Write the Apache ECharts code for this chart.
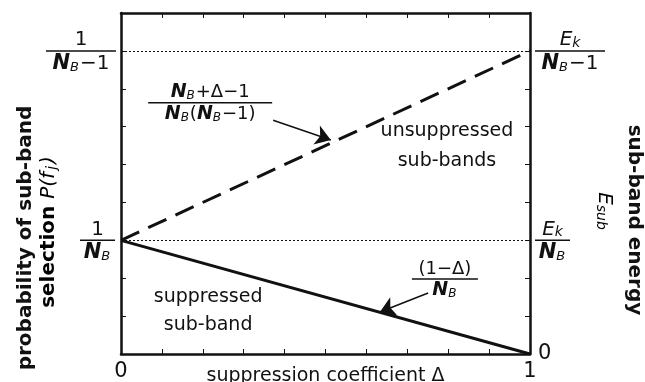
<!DOCTYPE html>
<html>
<head>
<meta charset="utf-8">
<script src="https://cdn.jsdelivr.net/npm/echarts@6/dist/echarts.min.js"></script>
<style>
  html, body { margin: 0; padding: 0; background: #fff; }
  #chart { width: 645px; height: 382px; }
</style>
</head>
<body>
<div id="chart"></div>
<script>
// Schematic scale: Δ runs 0..1, the probability axis runs 0..9 tick steps
const deltaValues = [0, 1];
const suppressedProb = [3, 0];      // (1-Δ)/NB
const unsuppressedProb = [3, 8];    // (NB+Δ-1)/(NB(NB-1))
const levelInvNB = 3;               // 1/NB  and  Ek/NB
const levelInvNBm1 = 8;             // 1/(NB-1)  and  Ek/(NB-1)
const yMax = 9;
const xTickLabels = { 0: '0', 1: '1' };
const rightTickLabels = { 0: '0' };

// annotation anchors in data coordinates
const unsupFracAt = [0.218, 6.63];
const unsupArrow = [[0.372, 6.17], [0.513, 5.65]];
const supFracAt = [0.792, 1.98];
const supArrow = [[0.751, 1.61], [0.633, 1.11]];
const unsupTextAt = [0.797, 5.5];
const supTextAt = [0.213, 1.13];

const FONT = '"DejaVu Sans", sans-serif';
const INK = '#111';

const chart = echarts.init(document.getElementById('chart'));

const axisCommon = {
  type: 'value',
  axisLine: { show: true, onZero: false, lineStyle: { color: INK, width: 2.5 } },
  axisTick: { show: true, inside: true, length: 5, lineStyle: { color: INK, width: 1 } },
  splitLine: { show: false }
};

chart.setOption({
  animation: false,
  grid: { left: 121, right: 115, top: 13, bottom: 28, outerBoundsMode: 'none', containLabel: false },
  xAxis: [
    Object.assign({}, axisCommon, {
      min: 0, max: 1, interval: 0.1, position: 'bottom',
      axisLabel: {
        show: true, margin: 7, fontSize: 21, color: INK, fontFamily: FONT,
        formatter: v => xTickLabels[v] !== undefined ? xTickLabels[v] : ''
      },
      name: 'suppression coefficient Δ', nameLocation: 'middle', nameGap: 13,
      nameMoveOverlap: false,
      nameTextStyle: { fontSize: 19, color: INK, fontFamily: FONT, verticalAlign: 'top' }
    }),
    Object.assign({}, axisCommon, {
      min: 0, max: 1, interval: 0.1, position: 'top',
      axisLabel: { show: false }
    })
  ],
  yAxis: [
    Object.assign({}, axisCommon, {
      min: 0, max: yMax, interval: 1, position: 'left',
      axisLabel: { show: false }
    }),
    Object.assign({}, axisCommon, {
      min: 0, max: yMax, interval: 1, position: 'right',
      axisLabel: {
        show: true, margin: 8, fontSize: 21, color: INK, fontFamily: FONT,
        formatter: v => rightTickLabels[v] !== undefined ? rightTickLabels[v] : ''
      }
    })
  ],
  series: [
    {
      name: 'suppressed', type: 'line', symbol: 'none',
      data: deltaValues.map((d, i) => [d, suppressedProb[i]]),
      lineStyle: { color: INK, width: 3 },
      markLine: {
        silent: true, symbol: ['none', 'arrow'], symbolSize: 15,
        label: { show: false },
        lineStyle: { color: INK, width: 1.5, type: 'solid' },
        data: [
          [{ coord: unsupArrow[0] }, { coord: unsupArrow[1] }],
          [{ coord: supArrow[0] }, { coord: supArrow[1] }]
        ]
      },
      z: 3
    },
    {
      name: 'unsuppressed', type: 'line', symbol: 'none',
      data: deltaValues.map((d, i) => [d, unsuppressedProb[i]]),
      lineStyle: { color: INK, width: 3, type: [20, 10] },
      markLine: {
        silent: true, symbol: 'none', label: { show: false },
        lineStyle: { color: INK, width: 1, type: [2, 2] },
        data: [{ yAxis: levelInvNB }, { yAxis: levelInvNBm1 }]
      },
      z: 2
    }
  ]
});

// ---- text overlays (fractions, titles) placed through the axes ----
const px = (x, y) => chart.convertToPixel({ gridIndex: 0 }, [x, y]);

const rich = (size) => ({
  n: { fontSize: size, fontFamily: FONT, color: INK },
  N: { fontSize: size + 1, fontFamily: FONT, color: INK, fontStyle: 'italic', fontWeight: 'bold' },
  B: { fontSize: Math.round(size * 0.66), fontFamily: FONT, color: INK, fontStyle: 'italic', verticalAlign: 'bottom', padding: [0, 1, 0, 0] },
  E: { fontSize: size, fontFamily: FONT, color: INK, fontStyle: 'italic' },
  k: { fontSize: Math.round(size * 0.7), fontFamily: FONT, color: INK, fontStyle: 'italic', verticalAlign: 'bottom' }
});

const NB = '{N|N}{B|B}';

function frac(cx, cy, half, num, den, size) {
  return [
    { type: 'text', x: cx, y: cy - 1, style: { text: num, rich: rich(size), align: 'center', verticalAlign: 'bottom', fill: INK } },
    { type: 'line', shape: { x1: cx - half, y1: cy, x2: cx + half, y2: cy }, style: { stroke: INK, lineWidth: 1.5 } },
    { type: 'text', x: cx, y: cy + 2, style: { text: den, rich: rich(size), align: 'center', verticalAlign: 'top', fill: INK } }
  ];
}

const leftX = px(0, 0)[0];
const rightX = px(1, 0)[0];
const yInv = px(0, levelInvNB)[1];
const yInvM1 = px(0, levelInvNBm1)[1];

let g = [];
// left tick fractions
g = g.concat(frac(leftX - 40, yInvM1, 35, '{n|1}', NB + '{n|−1}', 20));
g = g.concat(frac(leftX - 23.5, yInv, 17.5, '{n|1}', NB, 20));
// right tick fractions
g = g.concat(frac(rightX + 40, yInvM1, 35, '{E|E}{k|k}', NB + '{n|−1}', 20));
g = g.concat(frac(rightX + 22.5, yInv, 17.5, '{E|E}{k|k}', NB, 20));
// curve annotations
const uf = px(unsupFracAt[0], unsupFracAt[1]);
g = g.concat(frac(uf[0], uf[1], 62, NB + '{n|+Δ−1}', NB + '{n|(}' + NB + '{n|−1)}', 18));
const sf = px(supFracAt[0], supFracAt[1]);
g = g.concat(frac(sf[0], sf[1], 33, '{n|(1−Δ)}', NB, 18));

// region labels
const ut = px(unsupTextAt[0], unsupTextAt[1]);
g.push({ type: 'text', x: ut[0], y: ut[1], style: { text: 'unsuppressed\nsub-bands', align: 'center', verticalAlign: 'middle', font: '19px ' + FONT, fill: INK, lineHeight: 30 } });
const st = px(supTextAt[0], supTextAt[1]);
g.push({ type: 'text', x: st[0], y: st[1], style: { text: 'suppressed\nsub-band', align: 'center', verticalAlign: 'middle', font: '19px ' + FONT, fill: INK, lineHeight: 28 } });

// axis titles
g.push({ type: 'text', x: 26, y: 238, rotation: Math.PI / 2, style: { text: 'probability of sub-band', align: 'center', verticalAlign: 'middle', font: 'bold 20px ' + FONT, fill: INK } });
g.push({ type: 'text', x: 49, y: 232, rotation: Math.PI / 2, style: {
  text: '{t|selection }{P|P(f}{j|j}{P|)}', align: 'center', verticalAlign: 'middle',
  rich: {
    t: { fontSize: 20, fontWeight: 'bold', fontFamily: FONT, color: INK },
    P: { fontSize: 20, fontStyle: 'italic', fontFamily: FONT, color: INK },
    j: { fontSize: 14, fontStyle: 'italic', fontFamily: FONT, color: INK, verticalAlign: 'bottom', padding: [0, 2, 0, 2] }
  }
} });
g.push({ type: 'text', x: 634, y: 220, rotation: -Math.PI / 2, style: { text: 'sub-band energy', align: 'center', verticalAlign: 'middle', font: 'bold 20px ' + FONT, fill: INK } });
g.push({ type: 'text', x: 604, y: 211, rotation: -Math.PI / 2, style: {
  text: '{E|E}{s|sub}', align: 'center', verticalAlign: 'middle',
  rich: {
    E: { fontSize: 20, fontStyle: 'italic', fontFamily: FONT, color: INK },
    s: { fontSize: 14, fontStyle: 'italic', fontFamily: FONT, color: INK, verticalAlign: 'bottom' }
  }
} });

chart.setOption({ graphic: g });
</script>
</body>
</html>
